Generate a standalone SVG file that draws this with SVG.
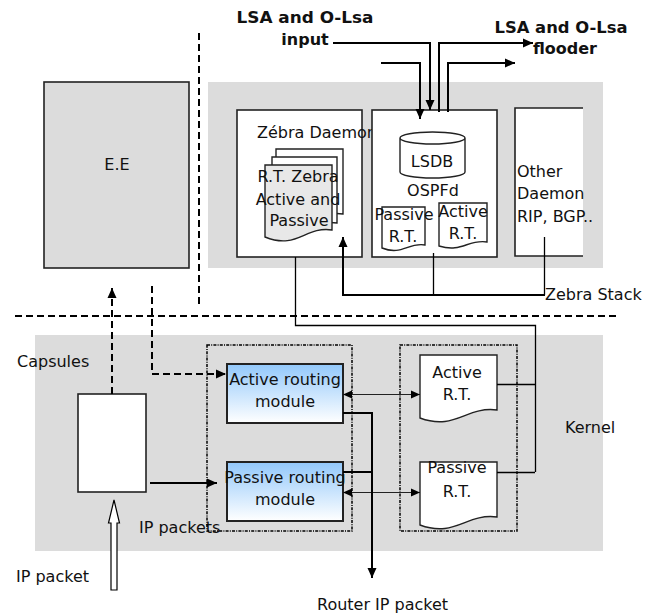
<svg xmlns="http://www.w3.org/2000/svg" width="656" height="614" viewBox="0 0 656 614">
<defs>
<style>
text{font-family:"DejaVu Sans","Liberation Sans",sans-serif;font-size:16px;fill:#111}
.b{font-weight:bold}
.c{text-anchor:middle}
.panel{fill:#dcdcdc;stroke:none}
.box{fill:#fff;stroke:#222;stroke-width:1.6}
.doc{fill:#fff;stroke:#222;stroke-width:1.4}
.thick{fill:none;stroke:#000;stroke-width:2}
.thin{fill:none;stroke:#000;stroke-width:1.3}
.dash{fill:none;stroke:#000;stroke-width:2;stroke-dasharray:7 4}
.dot{fill:none;stroke:#000;stroke-width:1.5;stroke-dasharray:3 1.2 1 1.2}
</style>
<linearGradient id="blue" x1="0" y1="0" x2="0" y2="1">
<stop offset="0" stop-color="#92c8fb"/>
<stop offset="1" stop-color="#ffffff"/>
</linearGradient>
<marker id="ah" markerWidth="10" markerHeight="10" viewBox="0 0 10 10" refX="10" refY="5" orient="auto" markerUnits="userSpaceOnUse">
<path d="M0,0.5 L10,5 L0,9.5 Z" fill="#000"/>
</marker>
<marker id="ahs" markerWidth="10" markerHeight="9" viewBox="0 0 10 10" refX="10" refY="5" orient="auto-start-reverse" markerUnits="userSpaceOnUse">
<path d="M0,0.5 L10,5 L0,9.5 Z" fill="#000"/>
</marker>
</defs>
<rect width="656" height="614" fill="#fff"/>

<!-- panels -->
<g id="zebra-stack-panel"><rect class="panel" x="208" y="82" width="395" height="186"/></g>
<g id="kernel-panel"><rect class="panel" x="35" y="335" width="568" height="216"/></g>

<!-- separators -->
<g id="separators">
<path class="dash" d="M15,316 H620" stroke-dasharray="8 5"/>
<path class="dash" d="M199,33 V307" stroke-dasharray="6 4"/>
</g>

<g id="ee">
<rect x="44" y="82" width="145" height="186" fill="#dcdcdc" stroke="#222" stroke-width="1.6"/>
<text class="c" x="117" y="170">E.E</text>
</g>

<g id="zebra-daemon">
<rect class="box" x="237" y="110" width="125" height="147"/>
<text x="257" y="138">Zébra Daemon</text>
<path class="doc" d="M276,149 H343 V214 C316,210 309,232 276,224 Z"/>
<path class="doc" d="M272,157 H337 V223 C311,219 303,241 272,233 Z"/>
<path class="doc" style="fill:#e8e8e8" d="M265,165 H332 V230 C305,226 297,250 265,237 Z"/>
<text class="c" x="298" y="182">R.T. Zebra</text>
<text class="c" x="298" y="205">Active and</text>
<text class="c" x="299" y="226">Passive</text>
</g>

<g id="ospfd">
<rect class="box" x="372" y="110" width="125" height="147"/>
<path fill="#fff" stroke="#222" stroke-width="1.4" d="M400,138 V172 A32.5,6 0 0 0 465,172 V138 A32.5,6 0 0 0 400,138 A32.5,6 0 0 0 465,138"/>
<text class="c" x="432" y="167">LSDB</text>
<text class="c" x="433" y="196">OSPFd</text>
<path class="doc" d="M382,207 H425 V245 C408,242 402,256 382,248 Z"/>
<path class="doc" d="M439,203 H487 V242 C468,239 462,253 439,246 Z"/>
<text class="c" x="404" y="220">Passive</text>
<text class="c" x="403" y="242">R.T.</text>
<text class="c" x="463" y="217">Active</text>
<text class="c" x="463" y="239">R.T.</text>
</g>

<g id="other-daemon">
<rect x="515" y="108" width="68" height="148" fill="#fff"/>
<path fill="none" stroke="#222" stroke-width="1.6" d="M583,108 H515 V256 H583"/>
<text x="517" y="177">Other</text>
<text x="517" y="199">Daemon</text>
<text x="517" y="222">RIP, BGP..</text>
</g>

<g id="labels">
<text class="b c" x="305" y="23" textLength="137" lengthAdjust="spacingAndGlyphs">LSA and O-Lsa</text>
<text class="b c" x="305" y="45">input</text>
<text class="b c" x="561" y="33" textLength="133" lengthAdjust="spacingAndGlyphs">LSA and O-Lsa</text>
<text class="b c" x="565" y="54">flooder</text>
<text x="545" y="300">Zebra Stack</text>
<text x="17" y="367">Capsules</text>
<text x="565" y="433">Kernel</text>
<text x="139" y="533">IP packets</text>
<text x="16" y="582">IP packet</text>
<text x="317" y="610">Router IP packet</text>
</g>

<g id="capsule-box"><rect class="box" x="78" y="394" width="68" height="98"/></g>

<g id="routing-modules-group"><rect class="dot" x="207" y="345" width="145" height="186"/></g>
<g id="routing-tables-group"><rect class="dot" x="400" y="345" width="117" height="186"/></g>

<g id="active-routing-module">
<rect x="227" y="364" width="116" height="59" fill="url(#blue)" stroke="#222" stroke-width="2"/>
<text class="c" x="285" y="385">Active routing</text>
<text class="c" x="285" y="407">module</text>
</g>
<g id="passive-routing-module">
<rect x="227" y="462" width="116" height="59" fill="url(#blue)" stroke="#222" stroke-width="2"/>
<text class="c" x="285" y="483">Passive routing</text>
<text class="c" x="285" y="505">module</text>
</g>

<g id="active-rt">
<path class="doc" d="M420,355 H497 V410 C466,406 455,431 420,418 Z"/>
<text class="c" x="457" y="378">Active</text>
<text class="c" x="457" y="400">R.T.</text>
</g>
<g id="passive-rt">
<path class="doc" d="M420,462 H497 V517 C466,513 455,538 420,525 Z"/>
<text class="c" x="457" y="473">Passive</text>
<text class="c" x="457" y="497">R.T.</text>
</g>

<g id="connectors">
<path class="thick" d="M333,43 H430 V110" marker-end="url(#ah)"/>
<path class="thick" d="M381,63 H420 V119" marker-end="url(#ah)"/>
<path class="thick" d="M439,112 V43 H533" marker-end="url(#ah)"/>
<path class="thick" d="M448,112 V63 H515" marker-end="url(#ah)"/>
<path class="thick" d="M545,295 H343 V237" marker-end="url(#ah)"/>
<path class="thin" d="M433.5,253 V295"/>
<path class="thin" d="M544.5,237 V295"/>
<path class="thin" d="M295.5,257 V325.5 H535.5 V472"/>
<path class="thin" d="M497,384.5 H535"/>
<path class="thin" d="M497,472.5 H535"/>
<path class="dash" d="M112,394 V288" marker-end="url(#ah)"/>
<path class="dash" d="M152,286 V374 H226" marker-end="url(#ah)"/>
<path class="thick" d="M150,483 H217" marker-end="url(#ah)"/>
<path fill="none" stroke="#222" stroke-width="1.2" d="M343,394.5 H420" marker-start="url(#ahs)" marker-end="url(#ahs)"/>
<path fill="none" stroke="#222" stroke-width="1.2" d="M343,492.5 H420" marker-start="url(#ahs)" marker-end="url(#ahs)"/>
<path class="thick" d="M343,413 H372 V578" marker-end="url(#ah)"/>
<path class="thick" d="M343,472 H372"/>
<path fill="#fff" stroke="#000" stroke-width="1.2" d="M111,590 V523 H108.5 L114,500 L119.5,523 H117 V590 Z"/>
</g>
</svg>
